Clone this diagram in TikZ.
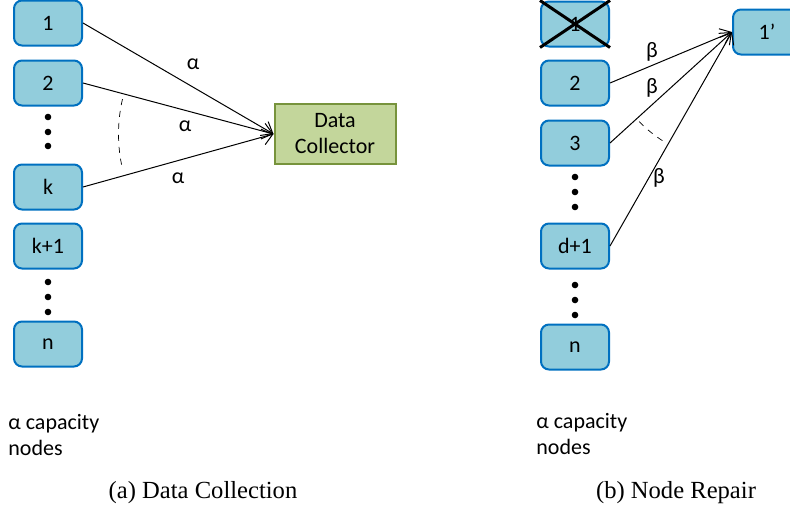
\documentclass[tikz,border=0pt]{standalone}
\usepackage{fontspec}
\setmainfont{Carlito}
\newfontfamily\capfont{Liberation Serif}
\usetikzlibrary{arrows.meta}
\definecolor{boxblue}{RGB}{146,205,220}
\definecolor{boxedge}{RGB}{0,112,192}
\definecolor{dcgreen}{RGB}{195,214,155}
\definecolor{dcedge}{RGB}{119,147,60}
\tikzset{store/.style = {draw=boxedge, fill=boxblue, line width=1pt, rounded corners=4pt, minimum width=34pt, minimum height=22.5pt, inner sep=0pt, font=\fontsize{11}{13}\selectfont}}
\tikzset{collector/.style = {draw=dcedge, fill=dcgreen, line width=1pt, minimum width=60.5pt, minimum height=30pt, inner sep=0pt, align=center, font=\fontsize{11}{13}\selectfont}}
\tikzset{circ/.style = {fill, circle, inner sep = 0, minimum size = 3.3pt}}
\tikzset{flow/.style = {-{Straight Barb[length=5pt,width=8pt]}, line width=0.5pt}}
\tikzset{lbl/.style = {font=\fontsize{11}{13}\selectfont, inner sep=0pt}}

\begin{document}
\begin{tikzpicture}[x=0.5pt,y=-0.5pt]
        \useasboundingbox (0,0) rectangle (790,514);
        % data collection
        \node [store] (a1) at (48,23) {1};
        \node [store] (a2) at (48,83) {2};
        \node [store] (ak) at (48,187) {k};
        \node [store] (ak1) at (48,246) {k+1};
        \node [store] (an) at (48,344) {n};
        \foreach \y [count=\i] in {117,132,146} \node [circ] (ad\i) at (48,\y) {};
        \foreach \y [count=\i] in {282,297,312} \node [circ] (ae\i) at (48,\y) {};
        \node [collector] (dc) at (335,134) {Data\\Collector};
        \draw [flow] (a1.east) -- (dc.west);
        \draw [flow] (a2.east) -- (dc.west);
        \draw [flow] (ak.east) -- (dc.west);
        \node [lbl] (la1) at (193,64) {α};
        \node [lbl] (la2) at (185,126) {α};
        \node [lbl] (lak) at (178,178) {α};
        \draw [dashed, line width=0.35pt] (dc.west) ++(167:77.5pt) arc [start angle=167, end angle=193, radius=77.5pt];
        \node [lbl, anchor=west, align=left] (cap1) at (8,435) {α capacity\\nodes};
        \node [font=\capfont\fontsize{12.3}{14}\selectfont] (sa) at (203,493) {(a) Data Collection};
        % node repair
        \node [store] (b1) at (575,24) {1};
        \draw [line width=1.5pt] (b1.north west) -- (b1.south east) (b1.south west) -- (b1.north east);
        \node [store] (b2) at (575,83) {2};
        \node [store] (b3) at (575,143) {3};
        \node [store] (bd) at (575,246) {d+1};
        \node [store] (bn) at (575,347) {n};
        \foreach \y [count=\i] in {177,192,207} \node [circ] (bd\i) at (575,\y) {};
        \foreach \y [count=\i] in {285,300,315} \node [circ] (be\i) at (575,\y) {};
        \node [store] (bnew) at (767,32) {1’};
        \draw [flow] (b2.east) -- (bnew.west);
        \draw [flow] (b3.east) -- (bnew.west);
        \draw [flow] (bd.east) -- (bnew.west);
        \node [lbl] (lb2) at (652,52) {β};
        \node [lbl] (lb3) at (652,88) {β};
        \node [lbl] (lbd) at (659,178) {β};
        \draw [dashed, line width=0.35pt] (bnew.west) ++(224:64.5pt) arc [start angle=224, end angle=238, radius=64.5pt];
        \node [lbl, anchor=west, align=left] (cap2) at (536,434) {α capacity\\nodes};
        \node [font=\capfont\fontsize{12.3}{14}\selectfont] (sb) at (676,493) {(b) Node Repair};
\end{tikzpicture}
\end{document}
